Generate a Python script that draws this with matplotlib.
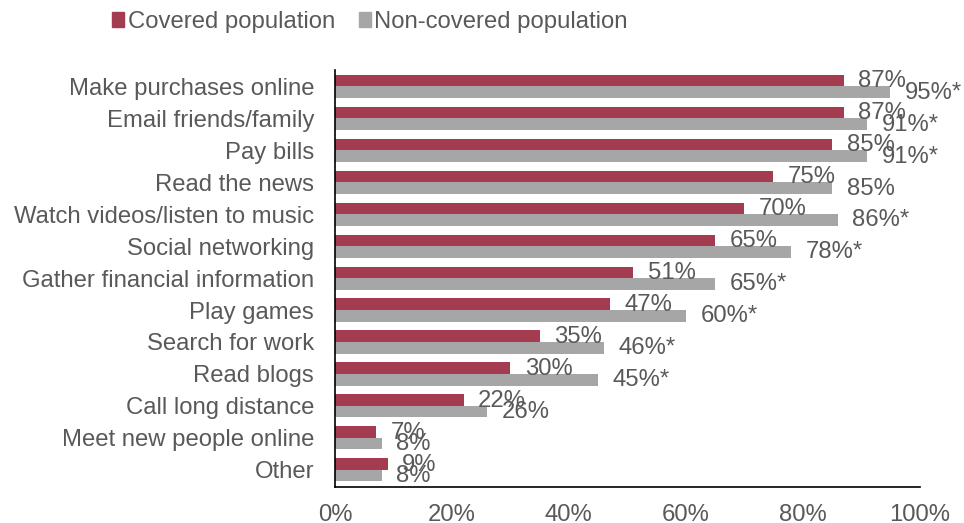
import matplotlib.pyplot as plt
import numpy as np
from matplotlib.patches import Patch

plt.rcParams["font.family"] = ["Liberation Sans", "DejaVu Sans"]

categories = [
    "Make purchases online",
    "Email friends/family",
    "Pay bills",
    "Read the news",
    "Watch videos/listen to music",
    "Social networking",
    "Gather financial information",
    "Play games",
    "Search for work",
    "Read blogs",
    "Call long distance",
    "Meet new people online",
    "Other",
]
covered = [87, 87, 85, 75, 70, 65, 51, 47, 35, 30, 22, 7, 9]
non_covered = [95, 91, 91, 85, 86, 78, 65, 60, 46, 45, 26, 8, 8]
non_covered_labels = ["95%*", "91%*", "91%*", "85%", "86%*", "78%*", "65%*",
                      "60%*", "46%*", "45%*", "26%", "8%", "8%"]

red = "#A33B51"
grey = "#A6A6A6"
text_col = "#595959"
fs = 17.2

fig = plt.figure(figsize=(9.64, 5.23), dpi=100)
ax = fig.add_axes([0.3475, 0.069, 0.954 - 0.3475, 0.797])

y = np.arange(len(categories))
h = 0.36
ax.barh(y - h / 2, covered, height=h, color=red)
ax.barh(y + h / 2, non_covered, height=h, color=grey)

for yi, v in zip(y, covered):
    ax.annotate(f"{v}%", (v, yi - h / 2), xytext=(10.5, -0.5), textcoords="offset points",
                ha="left", va="center", fontsize=fs, color=text_col)
for yi, v, lab in zip(y, non_covered, non_covered_labels):
    ax.annotate(lab, (v, yi + h / 2), xytext=(10.5, -0.5), textcoords="offset points",
                ha="left", va="center", fontsize=fs, color=text_col)

ax.set_xlim(0, 100)
ax.set_ylim(len(categories) - 0.47, -0.5)
ax.set_yticks(y)
ax.set_yticklabels(categories, fontsize=fs, color=text_col)
ax.set_xticks(np.arange(0, 101, 20))
ax.set_xticklabels([f"{t}%" for t in range(0, 101, 20)], fontsize=fs, color=text_col)
ax.tick_params(axis="both", length=0)
ax.tick_params(axis="y", pad=15)
ax.tick_params(axis="x", pad=12.5)

for side in ["top", "right"]:
    ax.spines[side].set_visible(False)
ax.spines["left"].set_color("black")
ax.spines["bottom"].set_color("black")
ax.spines["left"].set_linewidth(1.2)
ax.spines["bottom"].set_linewidth(1.2)

handles = [Patch(color=red, label="Covered population"),
           Patch(color=grey, label="Non-covered population")]
fig.legend(handles=handles, loc="upper left", bbox_to_anchor=(0.094, 1.02), ncol=2,
           frameon=False, fontsize=fs, handlelength=0.5, handleheight=0.6,
           handletextpad=0.15, columnspacing=1.0, labelcolor=text_col)

fig.savefig("out.png", dpi=100)
